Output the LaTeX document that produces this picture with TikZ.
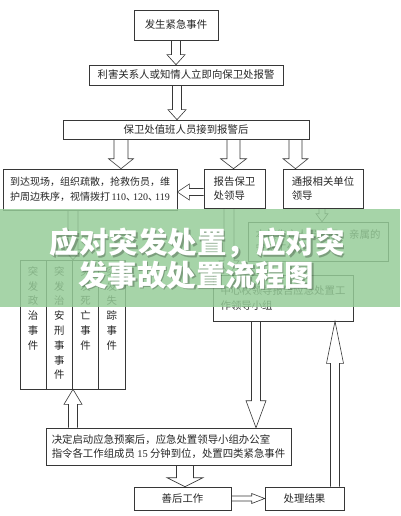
\documentclass[tikz,border=0pt]{standalone}
\usepackage{fontspec}
\setmainfont{Noto Sans CJK SC}
\newfontfamily\numfont{Liberation Serif}
\usetikzlibrary{calc}
\definecolor{ink}{RGB}{55,55,55}
\definecolor{bannergreen}{RGB}{150,204,152}
\tikzset{
  box/.style={draw=ink, line width=0.6pt, inner sep=0pt, font=\fontsize{10.4}{14.5}\selectfont, text=black!85},
  colbox/.style={draw=ink, line width=0.6pt, inner sep=0pt, minimum width=26.25pt, minimum height=129pt},
  coltext/.style={inner sep=0pt, align=center, font=\fontsize{10.4}{14.8}\selectfont, text=black!85, anchor=north},
  fatline/.style={draw=ink, line width=0.6pt, line join=miter},
  titletext/.style={font=\fontsize{29.5}{32}\selectfont\bfseries, text=white, inner sep=0pt},
  titleshadow/.style={font=\fontsize{29.5}{32}\selectfont\bfseries, text=black, text opacity=0.25, inner sep=0pt},
}
% #1 start, #2 end, #3 shaft half width, #4 head half width, #5 head length
\newcommand{\fatarrow}[5]{%
  \coordinate (fas) at (#1);
  \coordinate (fae) at (#2);
  \coordinate (fah) at ($(fae)!#5!(fas)$);
  \draw[fatline] ($(fas)!#3!90:(fae)$) -- ($(fah)!#3!-90:(fas)$) -- ($(fah)!#4!-90:(fas)$) -- (fae)
     -- ($(fah)!#4!90:(fas)$) -- ($(fah)!#3!90:(fas)$) -- ($(fas)!#3!-90:(fae)$);
}
\begin{document}
\begin{tikzpicture}[x=1pt,y=-1pt]
\useasboundingbox (0,0) rectangle (400,516);
\fill[white] (0,0) rectangle (400,516);

% boxes
\node[box, minimum width=84pt, minimum height=30pt] (b1) at (176,25) {发生紧急事件};
\node[box, minimum width=194pt, minimum height=20pt] (b2) at (186,75) {利害关系人或知情人立即向保卫处报警};
\node[box, minimum width=246pt, minimum height=19pt] (b3) at (186,129.5) {保卫处值班人员接到报警后};
\node[box, minimum width=174pt, minimum height=41pt, align=left, font=\fontsize{10}{14.5}\selectfont] (b4) at (90,189.5)
  {到达现场，组织疏散，抢救伤员，维\\护周边秩序，视情拨打\hspace{1.5pt}{\numfont 110}、\hspace{-3pt}{\numfont 120}、\hspace{-3pt}{\numfont 119}};
\node[box, minimum width=61pt, minimum height=39pt, align=left] (b5) at (234.5,188.5) {报告保卫\\处领导};
\node[box, minimum width=80pt, minimum height=39pt, align=left] (b6) at (323,188.5) {通报相关单位\\领导};
\node[box, minimum width=140pt, minimum height=39pt, align=left] (b7) at (318,241.5) {本校伤亡人员家属、亲属的\\安抚工作};
\node[box, minimum width=140pt, minimum height=46pt, align=left] (b8) at (283,298) {中心校领导报告应急处置工\\作领导小组};

\node[colbox] (c1) at (33.1,324.5) {};
\node[colbox] (c2) at (59.4,324.5) {};
\node[colbox] (c3) at (85.6,324.5) {};
\node[colbox] (c4) at (111.9,324.5) {};
\node[coltext] (t1) at ([yshift=-6.5pt]c1.north) {突\\发\\政\\治\\事\\件};
\node[coltext] (t2) at ([yshift=-6.5pt]c2.north) {突\\发\\治\\安\\刑\\事\\事\\件};
\node[coltext] (t3) at ([yshift=-6.5pt]c3.north) {突\\发\\死\\亡\\事\\件};
\node[coltext] (t4) at ([yshift=-6.5pt]c4.north) {突\\发\\失\\踪\\事\\件};

\node[box, minimum width=245pt, minimum height=37pt, align=left] (b9) at (168.5,446.5)
  {决定启动应急预案后，应急处置领导小组办公室\\指令各工作组成员 {\numfont 15} 分钟到位，处置四类紧急事件};
\node[box, minimum width=97pt, minimum height=23pt] (b10) at (182.5,498.5) {善后工作};
\node[box, minimum width=79pt, minimum height=23pt] (b11) at (304.5,498.5) {处理结果};

% hollow arrows
\fatarrow{b1.south}{b2.north -| fas}{4.5pt}{9pt}{10pt}
\fatarrow{[xshift=-9pt]b2.south}{b3.north -| fas}{4.5pt}{9pt}{10pt}
\fatarrow{[xshift=-65pt]b3.south}{b4.north -| fas}{7pt}{12.5pt}{10pt}
\fatarrow{[xshift=47.5pt]b3.south}{b5.north -| fas}{6.5pt}{13pt}{10pt}
\fatarrow{[xshift=109.5pt]b3.south}{b6.north -| fas}{6.5pt}{12.5pt}{10pt}
\fatarrow{[yshift=-3.5pt]b5.west}{b4.east |- fas}{3.5pt}{8pt}{12pt}
\fatarrow{[xshift=-17pt]b4.south}{c3.north -| fas}{5pt}{9pt}{10pt}
\fatarrow{[xshift=-5.5pt]b5.south}{b8.north -| fas}{5pt}{10pt}{14pt}
\fatarrow{[xshift=-1pt]b6.south}{b7.north -| fas}{3pt}{6pt}{8pt}
\fatarrow{[xshift=-27pt]b8.south}{b9.north -| fas}{4.5pt}{10pt}{27pt}
\fatarrow{[xshift=30.5pt]b11.north}{b8.south -| fas}{4.5pt}{8.5pt}{42pt}
\fatarrow{[xshift=-95.5pt]b9.north}{c3.south -| fas}{4.5pt}{9pt}{15pt}
\fatarrow{[xshift=16.5pt]b9.south}{b10.north -| fas}{8.5pt}{18pt}{9pt}
\fatarrow{b10.east}{b11.west}{2.5pt}{5pt}{13pt}

% banner overlay
\fill[bannergreen, fill opacity=0.84] (0,209) rectangle (400,307);
\node[titleshadow] (s1) at (198.5,244.5) {应对突发处置，应对突};
\node[titleshadow] (s2) at (197.5,276.5) {发事故处置流程图};
\node[titletext] (h1) at (197,243) {应对突发处置，应对突};
\node[titletext] (h2) at (196,275) {发事故处置流程图};
\end{tikzpicture}
\end{document}
